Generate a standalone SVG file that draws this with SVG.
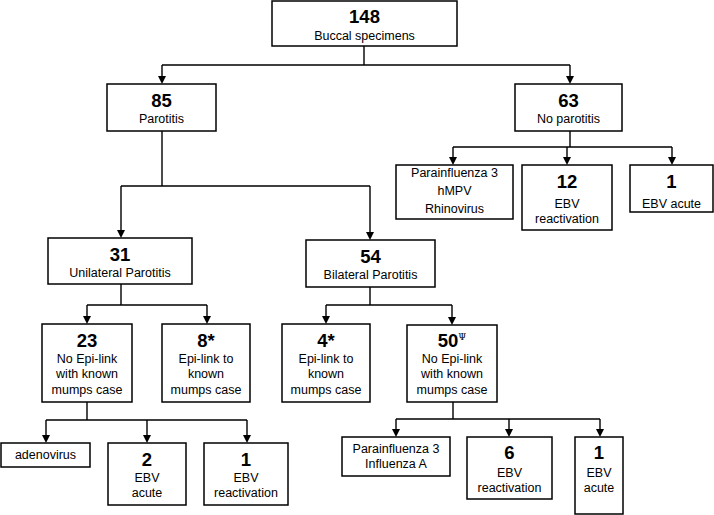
<svg xmlns="http://www.w3.org/2000/svg" width="714" height="515" viewBox="0 0 714 515">
<style>
.box{fill:#fff;stroke:#000;stroke-width:1.5}
.num{font-family:"Liberation Sans",Arial,sans-serif;font-weight:bold;font-size:18.5px;text-anchor:middle;fill:#000}
.lab{font-family:"Liberation Sans",Arial,sans-serif;font-size:12.5px;text-anchor:middle;fill:#000}
.sup{font-family:"DejaVu Serif",serif;font-size:9px;font-weight:normal}
.c{fill:none;stroke:#000;stroke-width:1.4}
</style>
<g id="connectors">
<path class="c" d="M364,46 V65 M162,65 H570 M162,131 V186 M121,186 H370 M570,131 V147 M453,147 H672 M121,284 V305 M87,305 H207 M370,287 V305 M326,305 H452 M87,402 V420 M46,420 H247 M453,402 V419 M396,419 H600"/>
<path class="c" d="M162,65 V76 M570,65 V76 M453,147 V157 M567,147 V157 M672,147 V157 M121,186 V230 M370,186 V232 M87,305 V316 M207,305 V316 M326,305 V316 M452,305 V317 M46,420 V435 M147,420 V435 M247,420 V435 M396,419 V429 M509,419 V429 M600,419 V429"/>
<g fill="#000">
<path d="M158,76 L166,76 L162,84 Z"/>
<path d="M566,76 L574,76 L570,84 Z"/>
<path d="M449,157 L457,157 L453,165 Z"/>
<path d="M563,157 L571,157 L567,165 Z"/>
<path d="M668,157 L676,157 L672,165 Z"/>
<path d="M117,230 L125,230 L121,238 Z"/>
<path d="M366,232 L374,232 L370,240 Z"/>
<path d="M83,316 L91,316 L87,324 Z"/>
<path d="M203,316 L211,316 L207,324 Z"/>
<path d="M322,316 L330,316 L326,324 Z"/>
<path d="M448,317 L456,317 L452,325 Z"/>
<path d="M42,435 L50,435 L46,443 Z"/>
<path d="M143,435 L151,435 L147,443 Z"/>
<path d="M243,435 L251,435 L247,443 Z"/>
<path d="M392,429 L400,429 L396,437 Z"/>
<path d="M505,429 L513,429 L509,437 Z"/>
<path d="M596,429 L604,429 L600,437 Z"/>
</g>
</g>
<g id="n148"><rect class="box" x="272" y="1" width="185" height="45"/><text class="num" x="364.5" y="23">148</text><text class="lab" x="364.5" y="40">Buccal specimens</text></g>
<g id="n85"><rect class="box" x="107" y="84" width="109" height="47"/><text class="num" x="161.5" y="107">85</text><text class="lab" x="161.5" y="123">Parotitis</text></g>
<g id="n63"><rect class="box" x="515" y="84" width="107" height="47"/><text class="num" x="568.5" y="107">63</text><text class="lab" x="568.5" y="123">No parotitis</text></g>
<g id="nPI3a"><rect class="box" x="396" y="165" width="117" height="54"/><text class="lab" x="454.5" y="177">Parainfluenza 3</text><text class="lab" x="454.5" y="195">hMPV</text><text class="lab" x="454.5" y="213">Rhinovirus</text></g>
<g id="n12"><rect class="box" x="522" y="165" width="90" height="65"/><text class="num" x="567" y="188">12</text><text class="lab" x="567" y="208">EBV</text><text class="lab" x="567" y="223">reactivation</text></g>
<g id="n1a"><rect class="box" x="630" y="165" width="83" height="47"/><text class="num" x="671.5" y="188">1</text><text class="lab" x="671.5" y="208">EBV acute</text></g>
<g id="n31"><rect class="box" x="48" y="238" width="144" height="46"/><text class="num" x="120" y="261">31</text><text class="lab" x="120" y="277">Unilateral Parotitis</text></g>
<g id="n54"><rect class="box" x="306" y="240" width="129" height="47"/><text class="num" x="370.5" y="263">54</text><text class="lab" x="370.5" y="279">Bilateral Parotitis</text></g>
<g id="n23"><rect class="box" x="42" y="324" width="90" height="78"/><text class="num" x="87" y="347">23</text><text class="lab" x="87" y="363">No Epi-link</text><text class="lab" x="87" y="378">with known</text><text class="lab" x="87" y="394">mumps case</text></g>
<g id="n8"><rect class="box" x="162" y="324" width="88" height="78"/><text class="num" x="206" y="347">8*</text><text class="lab" x="206" y="363">Epi-link to</text><text class="lab" x="206" y="378">known</text><text class="lab" x="206" y="394">mumps case</text></g>
<g id="n4"><rect class="box" x="282" y="324" width="88" height="78"/><text class="num" x="326" y="347">4*</text><text class="lab" x="326" y="363">Epi-link to</text><text class="lab" x="326" y="378">known</text><text class="lab" x="326" y="394">mumps case</text></g>
<g id="n50"><rect class="box" x="407" y="325" width="90" height="77"/><text class="num" x="452" y="347">50<tspan class="sup" dy="-7">Ψ</tspan></text><text class="lab" x="452" y="363">No Epi-link</text><text class="lab" x="452" y="378">with known</text><text class="lab" x="452" y="394">mumps case</text></g>
<g id="nAdeno"><rect class="box" x="1" y="443" width="89" height="24"/><text class="lab" x="45.5" y="459">adenovirus</text></g>
<g id="n2"><rect class="box" x="108" y="443" width="78" height="62"/><text class="num" x="147" y="466">2</text><text class="lab" x="147" y="482">EBV</text><text class="lab" x="147" y="497">acute</text></g>
<g id="n1b"><rect class="box" x="204" y="443" width="84" height="62"/><text class="num" x="246" y="466">1</text><text class="lab" x="246" y="482">EBV</text><text class="lab" x="246" y="497">reactivation</text></g>
<g id="nPI3b"><rect class="box" x="342" y="437" width="108" height="39"/><text class="lab" x="396" y="453">Parainfluenza 3</text><text class="lab" x="396" y="468">Influenza A</text></g>
<g id="n6"><rect class="box" x="467" y="437" width="85" height="62"/><text class="num" x="509.5" y="459">6</text><text class="lab" x="509.5" y="477">EBV</text><text class="lab" x="509.5" y="492">reactivation</text></g>
<g id="n1c"><rect class="box" x="575" y="437" width="48" height="77"/><text class="num" x="599" y="459">1</text><text class="lab" x="599" y="477">EBV</text><text class="lab" x="599" y="492">acute</text></g>
</svg>
